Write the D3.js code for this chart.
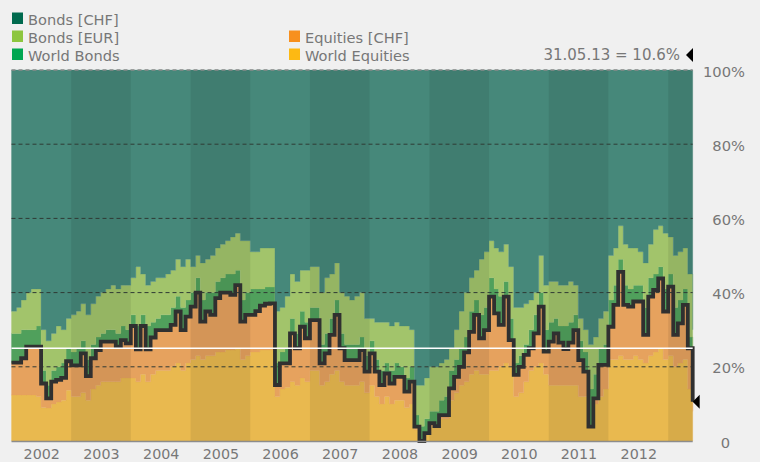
<!DOCTYPE html>
<html><head><meta charset="utf-8">
<script src="https://cdn.jsdelivr.net/npm/d3@7"></script>
<style>
html,body{margin:0;padding:0;background:#f0f0f0;}
svg{display:block;font-family:"DejaVu Sans",Verdana,sans-serif;}
</style></head><body>
<svg id="chart" width="760" height="462"></svg>
<script>
// ---------- data (monthly allocation in %, Jan 2002 .. May 2013, plus final day) ----------
const startDate = "2002-01-01";
const endDate = "2013-05-31";
const worldEquities = [
 12.4,12.4,12.4,12.4,12.4,12,9,8.9,10,10.5,11,13.7,
 12,12,13,11,14,15,16,16,16,16,17,17,
 17,16,18,16,18,19,19,19,20,21,19,21,
 22,23,22,23,23,24,24,24.5,24.5,25,22,23,
 24,24,24.5,24.5,24.5,12,14,14.5,16,15,17,16,
 19,19,15,16,18,19,16,15,15,15,16,13,
 15,12,10,12,10,11,11,9,10,3,0,2,
 4,3.5,6,6,11,13,15,16,18,19,18,18,
 19,19,20,21,20,12,13,16,19,20,21,18,
 15,15,15,15,15,15,12,12,3.5,10,12,14,
 22,22,23,22,22,23,22,21,23,24,25,22,
 23,20,21,22,14,8];
const equitiesCHF = [
 8.7,8.7,9.9,13,13,13.4,6.5,2.6,6,6,6,7.8,
 8.4,8.4,10.6,6.5,8.3,9.5,10.8,10.8,10.8,9.4,10.2,9.3,
 14,8.7,13,8.7,9.9,10.9,10.9,10.9,11.3,13.9,10.9,12.5,
 14.2,17,10.2,11.9,11,14.5,16,15.5,14.9,17,10.2,11,
 10,11,12,12.5,12.6,3.1,6.9,6.4,13,10,13.8,11.7,
 13.6,13.6,5.9,7.6,10.6,15,9,6.8,6.8,6.8,8.5,5.7,
 8.6,6.7,5.1,6.2,5.5,6.3,6.3,4.3,6,0.9,0,0.1,
 0.8,0.5,1,1,3.2,4.3,5,7.9,11.4,15,9.7,11.9,
 19.9,15.4,11.3,17.9,7.2,5.8,7,7.2,6,9,15.2,6.1,
 11.8,14,11.5,9.8,11.5,14.9,9.8,6.7,0.4,1.5,8.5,6.5,
 8.8,14.7,22.6,14.7,14.2,14.6,15.6,7.6,15.9,16.7,18.8,12.9,
 18.6,8.6,10.7,14.7,11,2.6];
const worldBonds = [
 7.9,7.9,7.7,4.6,4.6,5.6,3.5,3.5,3,3.5,4,3.5,
 3.6,4.6,3.4,4.5,3.7,3.5,2.2,3.2,3.2,3.6,3.8,3.7,
 3,6.3,3,6.3,4.1,3.1,4.1,4.1,4.7,4.1,6.1,4.5,
 3.8,4,5.8,5.1,6,4.5,4,5,5.6,4,5.8,6,
 7,6,4.5,4.5,4.4,5.9,3.1,4.1,4,4,4.2,4.3,
 3.4,3.4,5.1,5.4,4.4,4,4,4.2,4.2,4.2,3.5,4.3,
 3.4,3.3,3.9,2.8,3.5,3.7,2.7,3.7,4,3.1,4,3.9,
 3.2,4,4,5,4.8,4.7,5,4.1,5.6,4,6.3,6.1,
 5.1,6.6,7.7,4.1,5.8,3.2,3,2.8,5,5,3.8,5.9,
 5.2,4,4.5,6.2,5.5,4.1,5.2,5.3,10.1,6.5,4.5,5.5,
 7.2,5.3,3.4,5.3,4.8,4.4,4.4,7.4,5.1,4.3,3.2,6.1,
 3.4,7.4,6.3,4.3,3,3.4];
const bondsEUR = [
 6,7,8,10,11,10,11,12,10,11,9,8,
 10,10,10,12,11,11,11,11,12,12,11,12,
 10,16,11,11,11,11,10,11,10,10,11,11,
 7,6,10,9,10,9,9,9,10,10,16,14,
 10,10,11,10.5,10.5,14,12,14,12,14,11,14,
 11,11,14,15,12,10,11,13,12,13,12,10,
 6,10,13,11,12,11,11,14,10,8,11,11,
 12,12,10,10,6,8,10,12,9,8,15,15,
 10,11,12,10,14,15,13,11,8,6,10,12,
 11,10,11,11,11,8,6,6,12,10,8,9,
 12,10,9,11,11,10,9,12,9,12,11,15,
 10,14,13,11,17,16];
const bondsCHF = [
 65,64,62,60,59,59,70,73,71,69,70,67,
 66,65,63,66,63,61,60,59,58,59,58,58,
 56,53,55,58,57,56,56,55,54,51,53,51,
 53,50,52,51,50,48,47,46,45,44,46,46,
 49,49,48,48,48,65,64,61,55,57,54,54,
 53,53,60,56,55,52,60,61,62,61,60,67,
 67,68,68,68,69,68,69,69,70,85,85,83,
 80,80,79,78,75,70,65,60,56,54,51,49,
 46,48,49,47,53,64,64,63,62,60,50,58,
 57,57,58,58,57,58,67,70,74,72,67,65,
 50,48,42,47,48,48,49,52,47,43,42,44,
 45,50,49,48,55,70];

const seriesKeys   = ["worldEquities","equitiesCHF","worldBonds","bondsEUR","bondsCHF"];
const seriesLabels = ["World Equities","Equities [CHF]","World Bonds","Bonds [EUR]","Bonds [CHF]"];
const fillColors   = ["#e9b94f","#e6a25e","#50a05c","#a2c46b","#46887a"];
const legendColors = ["#fdb913","#f7901e","#00a651","#8dc63f","#006a4e"];
const yTicks = [0,20,40,60,80,100];
const yTickLabels = ["0","20%","40%","60%","80%","100%"];
const yearLabels = [2002,2003,2004,2005,2006,2007,2008,2009,2010,2011,2012];
const neutralLevel = 25;
const lastValue = 10.6;
const lastLabel = "31.05.13 = 10.6%";

// ---------- build table ----------
const parse = d3.utcParse("%Y-%m-%d");
const t0 = parse(startDate), t1 = parse(endDate);
const dates = d3.utcMonth.range(t0, d3.utcMonth.offset(d3.utcMonth.floor(t1),1)).concat([t1]);
const seriesArrays = {worldEquities, equitiesCHF, worldBonds, bondsEUR, bondsCHF};
const table = dates.map((d,i)=>{
  const row = {date:d};
  seriesKeys.forEach(k=> row[k] = seriesArrays[k][i]);
  return row;
});

const svg = d3.select("#chart");
const W = 760, H = 462;
const plot = {left:11.5, right:692.7, top:70, bottom:441};
const FONT = "'DejaVu Sans',Verdana,sans-serif";

const x = d3.scaleUtc().domain([t0,t1]).range([plot.left, plot.right]);
const y = d3.scaleLinear().domain([0,100]).range([plot.bottom, plot.top]);

svg.append("rect").attr("width",W).attr("height",H).attr("fill","#f0f0f0");

const stacked = d3.stack().keys(seriesKeys)(table);
const area = d3.area().curve(d3.curveStepAfter)
  .x(d=>x(d.data.date)).y0(d=>y(d[0])).y1(d=>y(d[1]));

svg.append("g").selectAll("path").data(stacked).join("path")
  .attr("d", area).attr("fill",(d,i)=>fillColors[i]).attr("stroke",(d,i)=>fillColors[i]).attr("stroke-width",0.3);

// alternating year bands
const bandYears = d3.range(2002, 2014);
const yStart = yr => d3.max([t0, new Date(Date.UTC(yr,0,1))]);
const yEnd = yr => d3.min([t1, new Date(Date.UTC(yr+1,0,1))]);
svg.append("g").selectAll("rect").data(bandYears.filter(yr=>yr%2===1)).join("rect")
  .attr("x", yr=>x(yStart(yr)))
  .attr("width", yr=>x(yEnd(yr)) - x(yStart(yr)))
  .attr("y", plot.top).attr("height", plot.bottom-plot.top)
  .attr("fill","rgba(0,0,0,0.075)");

// gridlines
svg.append("g").selectAll("line").data(yTicks.filter(v=>v>0)).join("line")
  .attr("x1",plot.left).attr("x2",plot.right)
  .attr("y1",d=>y(d)).attr("y2",d=>y(d))
  .attr("stroke",d=> d===100 ? "#8a8a8a" : "#2f3a34")
  .attr("stroke-width",d=> d===100 ? 1.6 : 1)
  .attr("stroke-dasharray","4,3");

// equity total line
const eqLine = d3.line().curve(d3.curveStepAfter)
  .x(d=>x(d.data.date)).y(d=>y(d[1]));
svg.append("path").datum(stacked[1]).attr("d",eqLine)
  .attr("fill","none").attr("stroke","#303030").attr("stroke-width",3.8)
  .attr("stroke-linejoin","miter").attr("stroke-linecap","butt");

// neutral white line
svg.append("line").attr("x1",plot.left).attr("x2",plot.right)
  .attr("y1",y(neutralLevel)).attr("y2",y(neutralLevel))
  .attr("stroke","#ffffff").attr("stroke-width",1.4);

// baseline
svg.append("line").attr("x1",plot.left).attr("x2",plot.right)
  .attr("y1",plot.bottom+0.5).attr("y2",plot.bottom+0.5)
  .attr("stroke","#8c8c8c").attr("stroke-width",1.5);

// right axis
const yAxis = d3.axisRight(y).tickValues(yTicks).tickFormat((d,i)=>yTickLabels[i]).tickSize(0);
const gy = svg.append("g").attr("transform",`translate(745,0)`).call(yAxis);
gy.select(".domain").remove();
gy.selectAll("text").attr("x",d=> d===0 ? -15 : 0).attr("dy","0.42em")
  .attr("text-anchor","end").attr("fill","#777").attr("font-size","14.7px")
  .attr("font-family",FONT);

// bottom axis (year labels centred in each year)
const xAxis = d3.axisBottom(x).tickValues(yearLabels.map(yr=>new Date(Date.UTC(yr,6,2))))
  .tickFormat(d=>d.getUTCFullYear()).tickSize(0);
const gx = svg.append("g").attr("transform",`translate(0,${plot.bottom})`).call(xAxis);
gx.select(".domain").remove();
gx.selectAll("text").attr("y",18).attr("dy",0).attr("fill","#777").attr("font-size","14.3px")
  .attr("font-family",FONT);

// last value marker
const yl = y(lastValue);
svg.append("path").attr("d",`M${plot.right},${yl} L${plot.right+7},${yl-7} L${plot.right+7},${yl+7} Z`).attr("fill","#000");
svg.append("text").attr("x",680).attr("y",60).attr("text-anchor","end")
  .attr("fill","#777").attr("font-size","15px").attr("font-family",FONT).text(lastLabel);
svg.append("path").attr("d",`M686,55 L693,48 L693,62 Z`).attr("fill","#000");

// legend
const legendItems = [
  {k:4,col:0,row:0},{k:3,col:0,row:1},{k:2,col:0,row:2},
  {k:1,col:1,row:1},{k:0,col:1,row:2}];
const lg = svg.append("g");
legendItems.forEach(it=>{
  const lx = it.col===0 ? 12 : 289;
  const by = 24.5 + it.row*18;
  lg.append("rect").attr("x",lx).attr("y",by-12).attr("width",11).attr("height",11.5)
    .attr("fill",legendColors[it.k]);
  lg.append("text").attr("x",lx+16).attr("y",by).attr("fill","#777")
    .attr("font-size","14.6px").attr("font-family",FONT).text(seriesLabels[it.k]);
});
</script>
</body></html>
